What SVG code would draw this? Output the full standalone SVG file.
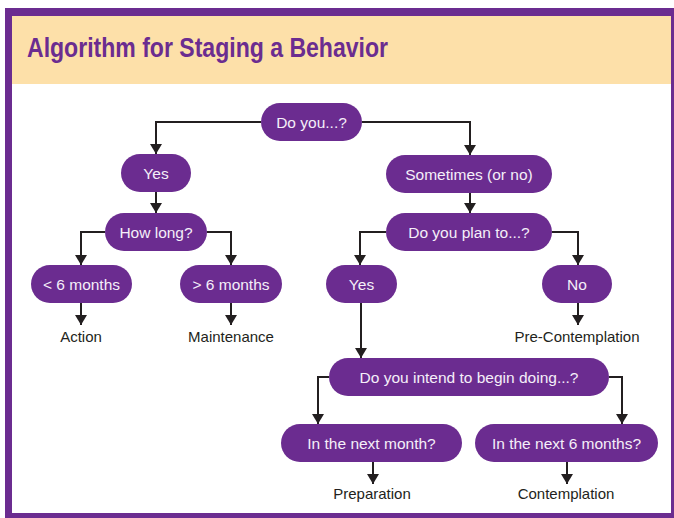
<svg xmlns="http://www.w3.org/2000/svg" width="674" height="518" viewBox="0 0 674 518">
  <style>
    .pill { fill: #6b2c90; }
    .pt { font-family: "Liberation Sans", Arial, sans-serif; font-size: 15.5px; fill: #f5eff9; text-anchor: middle; }
    .lbl { font-family: "Liberation Sans", Arial, sans-serif; font-size: 15px; fill: #231f20; text-anchor: middle; }
    .con { fill: none; stroke: #231f20; stroke-width: 2; }
  </style>
  <defs>
    <marker id="arr" markerUnits="userSpaceOnUse" markerWidth="11" markerHeight="12" refX="10" refY="6" orient="auto">
      <path d="M0,0 L10,6 L0,12 z" fill="#231f20"/>
    </marker>
  </defs>
  <rect x="0" y="0" width="674" height="518" fill="#ffffff"/>
  <g id="frame">
    <rect x="5" y="8" width="680" height="520" fill="#6b2c90"/>
    <rect x="12" y="16" width="659" height="497" fill="#ffffff"/>
    <rect x="12" y="16" width="659" height="68" fill="#fde0a9"/>
    <text x="27" y="57" font-family="'Liberation Sans', Arial, sans-serif" font-size="28" font-weight="bold" fill="#6b2c90" textLength="361" lengthAdjust="spacingAndGlyphs">Algorithm for Staging a Behavior</text>
  </g>
  <g id="connectors" class="con" marker-end="url(#arr)">
    <path class="con" d="M261,122 H156 V154" marker-end="url(#arr)"/>
    <path class="con" d="M362,122 H470 V155" marker-end="url(#arr)"/>
    <path class="con" d="M156,192 V213" marker-end="url(#arr)"/>
    <path class="con" d="M105,232 H81 V265" marker-end="url(#arr)"/>
    <path class="con" d="M207,232 H231 V265" marker-end="url(#arr)"/>
    <path class="con" d="M81,303 V325" marker-end="url(#arr)"/>
    <path class="con" d="M231,303 V325" marker-end="url(#arr)"/>
    <path class="con" d="M470,193 V213" marker-end="url(#arr)"/>
    <path class="con" d="M386,232 H360 V265" marker-end="url(#arr)"/>
    <path class="con" d="M552,232 H578 V265" marker-end="url(#arr)"/>
    <path class="con" d="M578,303 V325" marker-end="url(#arr)"/>
    <path class="con" d="M361,303 V358" marker-end="url(#arr)"/>
    <path class="con" d="M329,377 H318 V424" marker-end="url(#arr)"/>
    <path class="con" d="M609,377 H622 V424" marker-end="url(#arr)"/>
    <path class="con" d="M373,462 V484" marker-end="url(#arr)"/>
    <path class="con" d="M567,462 V484" marker-end="url(#arr)"/>
  </g>
  <g id="n-doyou"><rect class="pill" x="261" y="103" width="101" height="38" rx="19"/><text class="pt" x="311.5" y="127.5">Do you...?</text></g>
  <g id="n-yes1"><rect class="pill" x="121" y="154" width="70" height="38" rx="19"/><text class="pt" x="156" y="178.5">Yes</text></g>
  <g id="n-howlong"><rect class="pill" x="105" y="213" width="102" height="38" rx="19"/><text class="pt" x="156" y="237.5">How long?</text></g>
  <g id="n-lt6"><rect class="pill" x="31" y="265" width="101" height="38" rx="19"/><text class="pt" x="81.5" y="289.5">&lt; 6 months</text></g>
  <g id="n-gt6"><rect class="pill" x="180" y="265" width="102" height="38" rx="19"/><text class="pt" x="231" y="289.5">&gt; 6 months</text></g>
  <g id="l-action"><text class="lbl" x="81" y="342">Action</text></g>
  <g id="l-maintenance"><text class="lbl" x="231" y="342">Maintenance</text></g>
  <g id="n-sometimes"><rect class="pill" x="386" y="155" width="166" height="38" rx="19"/><text class="pt" x="469" y="179.5">Sometimes (or no)</text></g>
  <g id="n-plan"><rect class="pill" x="386" y="213" width="166" height="38" rx="19"/><text class="pt" x="469" y="237.5">Do you plan to...?</text></g>
  <g id="n-yes2"><rect class="pill" x="326" y="265" width="71" height="38" rx="19"/><text class="pt" x="361.5" y="289.5">Yes</text></g>
  <g id="n-no"><rect class="pill" x="542" y="265" width="70" height="38" rx="19"/><text class="pt" x="577" y="289.5">No</text></g>
  <g id="l-precontemplation"><text class="lbl" x="577" y="342">Pre-Contemplation</text></g>
  <g id="n-intend"><rect class="pill" x="329" y="358" width="280" height="38" rx="19"/><text class="pt" x="469" y="382.5">Do you intend to begin doing...?</text></g>
  <g id="n-nextmonth"><rect class="pill" x="281" y="424" width="181" height="38" rx="19"/><text class="pt" x="371.5" y="448.5">In the next month?</text></g>
  <g id="n-next6"><rect class="pill" x="475" y="424" width="183" height="38" rx="19"/><text class="pt" x="566.5" y="448.5">In the next 6 months?</text></g>
  <g id="l-preparation"><text class="lbl" x="372" y="499">Preparation</text></g>
  <g id="l-contemplation"><text class="lbl" x="566" y="499">Contemplation</text></g>
</svg>
